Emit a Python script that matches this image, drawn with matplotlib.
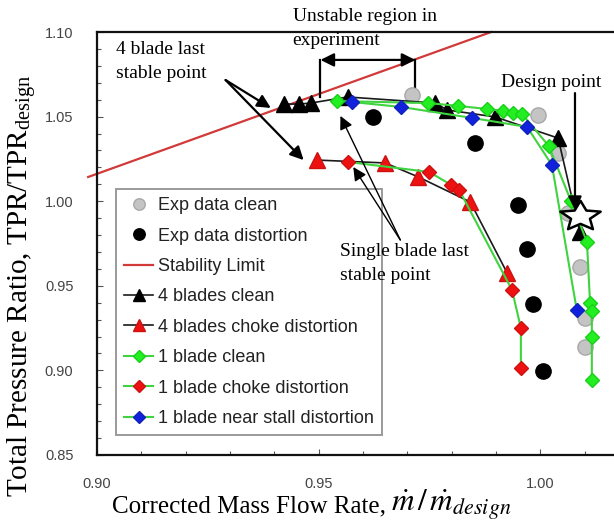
import matplotlib
matplotlib.use("Agg")
import matplotlib.pyplot as plt
from matplotlib.path import Path
from matplotlib.ticker import MultipleLocator, FormatStrFormatter
import numpy as np

# ---- data -------------------------------------------------------------
exp_clean_x = [0.9711, 0.9995, 1.0040, 1.0062, 1.0089, 1.0100, 1.0100]
exp_clean_y = [1.0628, 1.0509, 1.0285, 0.9930, 0.9611, 0.9310, 0.9138]

exp_dist_x = [0.9623, 0.9853, 0.9950, 0.9970, 0.9983, 1.0006]
exp_dist_y = [1.0498, 1.0344, 0.9978, 0.9717, 0.9392, 0.8996]

stab_x = [0.898, 0.9889]
stab_y = [1.0143, 1.10]

b4_clean_x = [0.9421, 0.9455, 0.9482, 0.9565, 0.9763, 0.9790, 0.9898, 1.0040, 1.0089]
b4_clean_y = [1.0574, 1.0574, 1.0580, 1.0616, 1.0580, 1.0539, 1.0498, 1.0373, 0.9817]

b4_choke_x = [0.9497, 0.9650, 0.9725, 0.9842, 0.9925]
b4_choke_y = [1.0243, 1.0226, 1.0143, 0.9995, 0.9576]

b1_clean_x = [0.9542, 0.9747, 0.9815, 0.9880, 0.9916, 0.9938, 0.9959, 1.0019,
              1.0069, 1.0105, 1.0112, 1.0116, 1.0116, 1.0116]
b1_clean_y = [1.0592, 1.0580, 1.0563, 1.0545, 1.0533, 1.0521, 1.0515, 1.0326,
              1.0001, 0.9759, 0.9398, 0.9351, 0.9197, 0.8943]

b1_choke_x = [0.9565, 0.9749, 0.9799, 0.9817, 0.9936, 0.9956, 0.9956]
b1_choke_y = [1.0232, 1.0173, 1.0096, 1.0066, 0.9475, 0.9251, 0.9014]

b1_stall_x = [0.9576, 0.9686, 0.9846, 0.9970, 1.0026, 1.0082]
b1_stall_y = [1.0586, 1.0557, 1.0492, 1.0439, 1.0214, 0.9357]

design_x, design_y = 1.009, 0.991

x_ticks = [0.90, 0.95, 1.00]
y_ticks = [0.85, 0.90, 0.95, 1.00, 1.05, 1.10]

# ---- style --------------------------------------------------------------
plt.rcParams['font.family'] = ['Liberation Sans', 'DejaVu Sans']
plt.rcParams['mathtext.fontset'] = 'stix'
SERIF = ['Liberation Serif', 'DejaVu Serif']

GREEN_LINE = '#3fd33f'
GREEN_FILL = '#22ee22'
RED = '#ee1111'
BLUE = '#1122dd'

fig = plt.figure(figsize=(6.14, 5.25), dpi=100)
ax = fig.add_axes([97 / 614, 70 / 525, 1 - 97 / 614, 423 / 525])

ax.plot(exp_clean_x, exp_clean_y, 'o', ms=11, mfc='#c4c4c4', mec='#a8a8a8',
        label='Exp data clean', zorder=3)
ax.plot(exp_dist_x, exp_dist_y, 'o', ms=11, mfc='black', mec='black',
        label='Exp data distortion', zorder=3)
ax.plot(stab_x, stab_y, '-', color='#d23a3a', lw=1.6, clip_on=False,
        label='Stability Limit', zorder=2)
ax.plot(b4_clean_x, b4_clean_y, '-^', color='#1a1a1a', lw=1.2, ms=11.5,
        mfc='black', mec='black', label='4 blades clean', zorder=4)
ax.plot(b4_choke_x, b4_choke_y, '-^', color='#1a1a1a', lw=1.2, ms=12,
        mfc=RED, mec='#cc1111', label='4 blades choke distortion', zorder=4)
ax.plot(b1_clean_x, b1_clean_y, '-D', color=GREEN_LINE, lw=1.5, ms=7.5,
        mfc=GREEN_FILL, mec='#19d019', label='1 blade clean', zorder=5)
ax.plot(b1_choke_x, b1_choke_y, '-D', color=GREEN_LINE, lw=1.5, ms=7.5,
        mfc=RED, mec='#cc1111', label='1 blade choke distortion', zorder=5)
ax.plot(b1_stall_x, b1_stall_y, '-D', color=GREEN_LINE, lw=1.5, ms=7.5,
        mfc=BLUE, mec='#1122bb', label='1 blade near stall distortion', zorder=6)

# design point: a wide five-pointed star
ang = np.pi / 2 + np.arange(10) * np.pi / 5
rad = np.where(np.arange(10) % 2 == 0, 1.0, 0.47)
verts = np.column_stack([1.35 * rad * np.cos(ang), rad * np.sin(ang)])
verts = np.vstack([verts, verts[:1]])
codes = [Path.MOVETO] + [Path.LINETO] * 9 + [Path.CLOSEPOLY]
star = Path(verts, codes)
ax.plot([design_x], [design_y], marker=star, ms=29, mfc='white', mec='black',
        mew=1.8, ls='none', zorder=9)

# ---- axes ----------------------------------------------------------------
ax.set_xlim(0.90, 1.0166)
ax.set_ylim(0.85, 1.10)
ax.set_xticks(x_ticks)
ax.set_yticks(y_ticks)
ax.xaxis.set_minor_locator(MultipleLocator(0.01))
ax.yaxis.set_minor_locator(MultipleLocator(0.01))
ax.xaxis.set_major_formatter(FormatStrFormatter('%.2f'))
ax.yaxis.set_major_formatter(FormatStrFormatter('%.2f'))
ax.tick_params(which='both', direction='in', top=False, right=False,
               colors='#555555', labelcolor='#444444', width=0.8)
ax.tick_params(which='major', length=4, labelsize=10.5)
ax.tick_params(axis='y', which='major', pad=17)
ax.tick_params(axis='x', which='major', pad=16)
ax.tick_params(which='minor', length=3)
for s in ['left', 'bottom', 'top']:
    ax.spines[s].set_linewidth(1.6)
    ax.spines[s].set_color('#111111')
ax.spines['right'].set_visible(False)

ax.set_ylabel('Total Pressure Ratio, TPR/TPR$_{\\mathregular{design}}$',
              fontsize=21, family=SERIF)
ax.yaxis.set_label_coords(-0.112, 0.40)

fig.text(112 / 614, 1 - 512 / 525, 'Corrected Mass Flow Rate,', fontsize=18,
         family=SERIF, ha='left', va='baseline')
fig.text(391 / 614, 1 - 512 / 525, '$\\dot{m}\\,/\\,\\dot{m}_{design}$',
         fontsize=22.5, ha='left', va='baseline')

leg = ax.legend(loc='lower left', bbox_to_anchor=(0.0367, 0.0473),
                borderaxespad=0, fontsize=13, numpoints=1, markerscale=0.75,
                handlelength=1.6, handletextpad=0.3, borderpad=0.45,
                labelspacing=0.74, fancybox=False, framealpha=1,
                edgecolor='#9a9a9a')
leg.get_frame().set_linewidth(1.4)
for t in leg.get_texts():
    t.set_color('#222222')

# ---- annotations -----------------------------------------------------------
thick = dict(arrowstyle='-|>', color='black', lw=1.6, mutation_scale=20,
             shrinkA=0, shrinkB=0)
thin = dict(arrowstyle='-|>', color='black', lw=1.0, mutation_scale=20,
            shrinkA=0, shrinkB=0)

ax.text(0.9043, 1.0826, '4 blade last\nstable point', fontsize=14,
        family=SERIF, ha='left', va='center', linespacing=1.5, zorder=10)
ax.annotate('', xy=(0.9392, 1.0551), xytext=(0.9290, 1.0716),
            arrowprops=thick, zorder=10)
ax.annotate('', xy=(0.9466, 1.0243), xytext=(0.9290, 1.0716),
            arrowprops=thick, zorder=10)

ax.text(0.9441, 1.1021, 'Unstable region in\nexperiment', fontsize=14,
        family=SERIF, ha='left', va='center', linespacing=1.5, zorder=10)
ax.annotate('', xy=(0.9504, 1.0835), xytext=(0.9718, 1.0835),
            arrowprops=dict(arrowstyle='<|-|>', color='black', lw=1.6,
                            mutation_scale=20, shrinkA=0, shrinkB=0), zorder=10)
ax.plot([0.9504, 0.9504], [1.0835, 1.0616], color='black', lw=1.6, zorder=10)
ax.plot([0.9718, 0.9718], [1.0835, 1.0669], color='black', lw=1.6, zorder=2)

ax.text(1.0024, 1.0699, 'Design point', fontsize=14, family=SERIF,
        ha='center', va='center', zorder=10)
ax.annotate('', xy=(1.0078, 0.9948), xytext=(1.0078, 1.0639),
            arrowprops=thick, zorder=10)

ax.text(0.9549, 0.9632, 'Single blade last\nstable point', fontsize=14,
        family=SERIF, ha='left', va='center', linespacing=1.5, zorder=10)
ax.annotate('', xy=(0.9549, 1.0504), xytext=(0.9684, 0.9771),
            arrowprops=thin, zorder=10)
ax.annotate('', xy=(0.9578, 1.0202), xytext=(0.9684, 0.9771),
            arrowprops=thin, zorder=10)

fig.savefig('out.png', dpi=100)
